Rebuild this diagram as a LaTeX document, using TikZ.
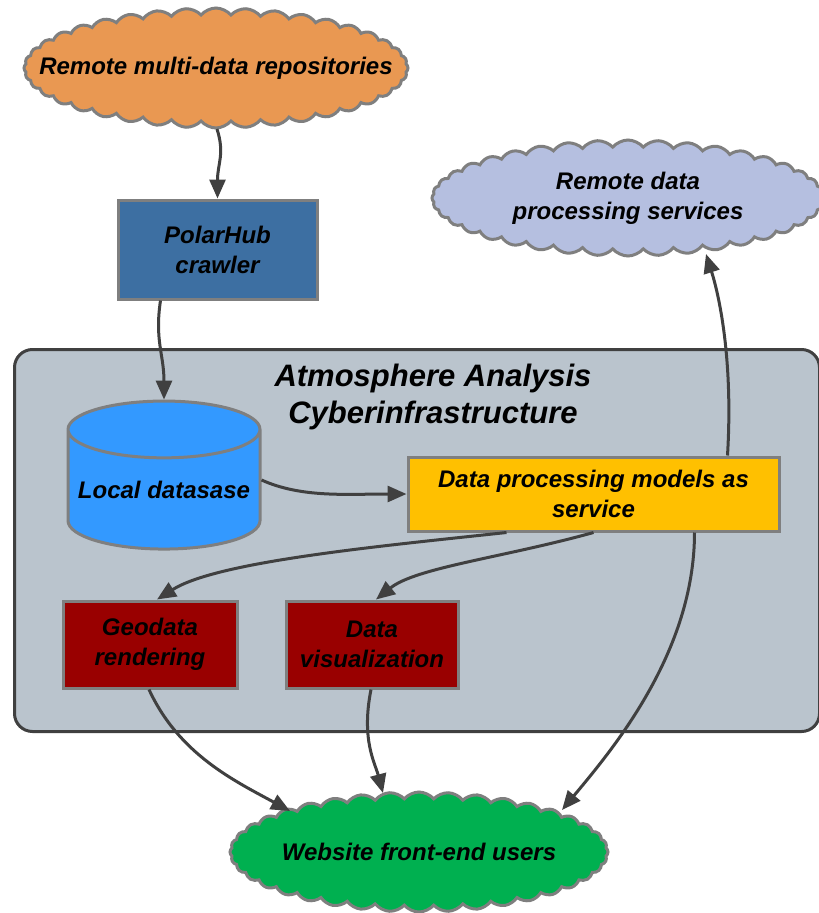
\documentclass[tikz,border=0pt]{standalone}
\usepackage{fontspec}
\setmainfont{Liberation Sans}
\usetikzlibrary{shapes.symbols}
\usetikzlibrary{shapes.geometric}
\usetikzlibrary{arrows.meta}
\usetikzlibrary{positioning}

\definecolor{repoorange}{RGB}{233,152,82}
\definecolor{crawlerblue}{RGB}{61,111,162}
\definecolor{servicelilac}{RGB}{181,191,224}
\definecolor{cigray}{RGB}{186,196,205}
\definecolor{dbblue}{RGB}{51,153,255}
\definecolor{modelyellow}{RGB}{255,192,0}
\definecolor{outred}{RGB}{153,0,0}
\definecolor{usergreen}{RGB}{0,176,80}
\definecolor{edgegray}{RGB}{127,127,127}
\definecolor{flowgray}{RGB}{64,64,64}

\begin{document}
\begin{tikzpicture}
                [x=1pt, y=-1pt,
                 every node/.style={font=\bfseries\itshape\fontsize{24}{30}\selectfont, align=center},
                 box/.style={rectangle, draw=edgegray, line width=3pt, inner sep=0pt},
                 puff/.style={cloud, cloud puffs=40, cloud puff arc=100, draw=edgegray,
                              line width=3pt, aspect=3.2, inner sep=0pt, inner xsep=-90pt, inner ysep=-15pt},
                 flow/.style={-{Triangle[length=19pt,width=16pt]}, draw=flowgray, line width=3pt}]
                \useasboundingbox (0,0) rectangle (819,913);
                % container
                \node (aci) [rectangle, rounded corners=18pt, draw=flowgray, line width=3pt,
                             fill=cigray, minimum width=805pt, minimum height=382pt,
                             anchor=north west] at (13,348) { };
                \node (acititle) [font=\bfseries\itshape\fontsize{31}{37}\selectfont] at (433,397)
                      {Atmosphere Analysis\\Cyberinfrastructure};
                % clouds
                \node (repos) [puff, fill=repoorange, minimum width=384pt, minimum height=120pt]
                      at (216,68) {Remote multi-data repositories};
                \node (remote) [puff, fill=servicelilac, minimum width=392pt, minimum height=116pt]
                      at (628,198) {Remote data\\processing services};
                \node (users) [puff, fill=usergreen, minimum width=378pt, minimum height=120pt]
                      at (419,852) {Website front-end users};
                % boxes
                \node (crawler) [box, fill=crawlerblue, minimum width=199pt, minimum height=99pt]
                      at (217.5,249.5) {PolarHub\\crawler};
                \node (db) [cylinder, shape border rotate=90, draw=edgegray, line width=3pt,
                            fill=dbblue, aspect=0.33, minimum width=192pt, minimum height=148pt,
                            inner sep=0pt] at (164,490) {Local datasase};
                \node (models) [box, fill=modelyellow, minimum width=371pt, minimum height=74pt]
                      at (593.5,494) {Data processing models as\\service};
                \node (geo) [box, fill=outred, minimum width=174pt, minimum height=87pt]
                      at (150,644.5) {Geodata\\rendering};
                \node (vis) [box, fill=outred, minimum width=172pt, minimum height=87pt]
                      at (372,644.5) {Data\\visualization};
                % connectors
                \draw [flow] ([shift={(1,61)}]repos.center) .. controls +(8,25) and +(0,-35) .. (crawler.north);
                \draw [flow] ([shift={(-57,0)}]crawler.south) .. controls +(-6,40) and +(0,-45) .. (db.top);
                \draw [flow] ([shift={(0,-10)}]db.east) .. controls +(40,18) and +(-60,0) .. (models.west);
                \draw [flow] ([shift={(134,0)}]models.north) .. controls +(6,-100) and +(12,38) .. ([shift={(78,56)}]remote.center);
                \draw [flow] ([shift={(-87,0)}]models.south) .. controls +(-130,14) and +(60,-38) .. ([shift={(7,0)}]geo.north);
                \draw [flow] ([shift={(0,0)}]models.south) .. controls +(-90,25) and +(40,-32) .. ([shift={(4,0)}]vis.north);
                \draw [flow] ([shift={(101,0)}]models.south) .. controls +(0,120) and +(50,-60) .. ([shift={(143,-42)}]users.center);
                \draw [flow] ([shift={(-1,0)}]geo.south) .. controls +(30,65) and +(-55,-30) .. ([shift={(-129,-41)}]users.center);
                \draw [flow] ([shift={(-1,0)}]vis.south) .. controls +(-10,50) and +(-8,-30) .. ([shift={(-36,-59)}]users.center);
            \end{tikzpicture}
\end{document}
